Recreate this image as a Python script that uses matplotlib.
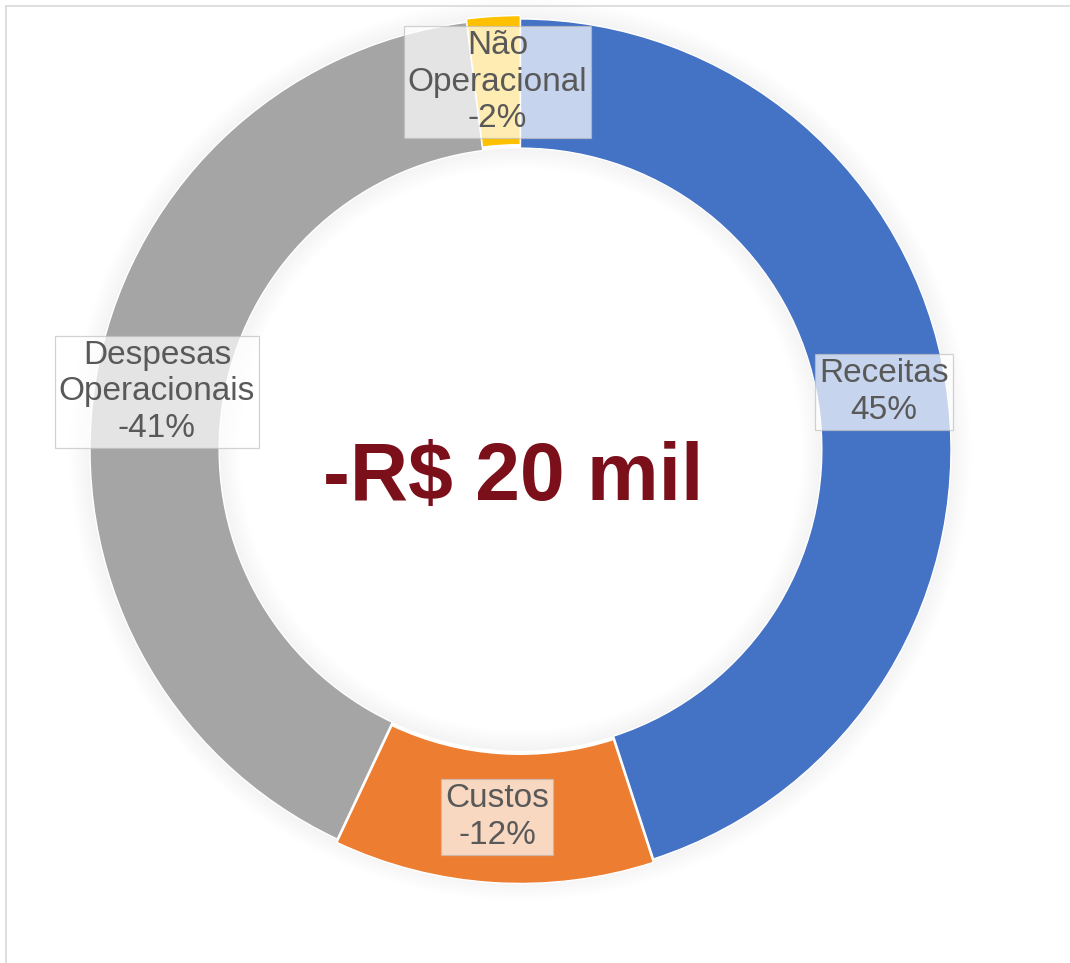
import matplotlib
matplotlib.use("Agg")
import matplotlib.pyplot as plt
from matplotlib.patches import Wedge
from matplotlib.lines import Line2D
import numpy as np

# ---- data ----
categories = ["Receitas", "Custos", "Despesas\nOperacionais", "Não\nOperacional"]
percentages = [45, -12, -41, -2]
colors = ["#4472C4", "#ED7D31", "#A5A5A5", "#FFC000"]
explode = [0.0, 0.008, 0.0, 0.008]
center_text = "-R$ 20 mil"

W, H = 1070, 963
fig = plt.figure(figsize=(W / 100, H / 100), dpi=100)
ax = fig.add_axes([0, 0, 1, 1])
cx, cy, R = 520.5, 449.5, 430.5
ax.axis("off")

# soft shadow around the ring
n = 16
for i in range(n):
    a = 0.045 * (1 - i / n)
    r_out = 1.0 + 0.003 * (i + 1)
    ax.add_patch(Wedge((0, 0), r_out, 0, 360, width=0.003,
                       facecolor="black", edgecolor="none", alpha=a, zorder=0))
    r_in = 0.7 - 0.003 * i
    ax.add_patch(Wedge((0, 0), r_in, 0, 360, width=0.003,
                       facecolor="black", edgecolor="none", alpha=a, zorder=0))

sizes = [abs(v) for v in percentages]
labels_fmt = [f"{c}\n{v}%" for c, v in zip(categories, percentages)]

wedges, _ = ax.pie(sizes, colors=colors, startangle=90, counterclock=False,
                   explode=explode, radius=1.0,
                   wedgeprops=dict(width=0.3, edgecolor="white", linewidth=1.0),
                   frame=False, normalize=True)
ax.set_xlim(-cx / R, (W - cx) / R)
ax.set_ylim((cy - H) / R, cy / R)
ax.set_aspect("auto")

# labels at ring middle
total = sum(sizes)
ang = 90.0
for w, lab, s in zip(wedges, labels_fmt, sizes):
    span = 360.0 * s / total
    mid = np.deg2rad(ang - span / 2)
    ang -= span
    r = 0.855
    ax.text(r * np.cos(mid), r * np.sin(mid), lab, ha="center", va="center",
            fontsize=24, color="#595959", family="Liberation Sans", linespacing=1.24,
            bbox=dict(boxstyle="square,pad=0.12", facecolor="white", alpha=0.7,
                      edgecolor="#BFBFBF", linewidth=0.9), zorder=5)

ax.text(-0.018, -0.068, center_text, ha="center", va="center", fontsize=58,
        fontweight="bold", color="#7B0F1A", family="Liberation Sans", zorder=5)

# thin frame lines at top and left
fig.add_artist(Line2D([6 / W, 1], [1 - 6 / H, 1 - 6 / H], color="#D9D9D9", lw=1.2))
fig.add_artist(Line2D([6 / W, 6 / W], [0, 1 - 6 / H], color="#D9D9D9", lw=1.2))

fig.savefig("out.png", dpi=100, facecolor="white")
